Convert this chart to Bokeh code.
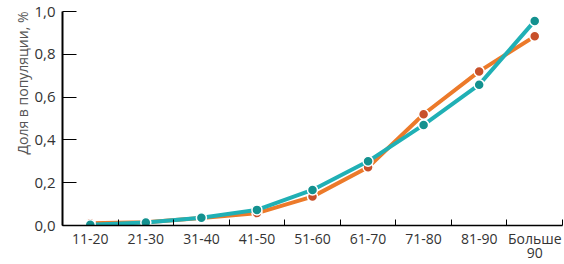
import numpy as np
from bokeh.plotting import figure
from bokeh.models import (Range1d, LinearAxis, FixedTicker, CustomJSTickFormatter, Title)
from bokeh.embed import file_html
from bokeh.resources import INLINE

categories = ["11-20", "21-30", "31-40", "41-50", "51-60", "61-70", "71-80", "81-90", "Больше\n90"]
orange_values = [0.010, 0.015, 0.035, 0.058, 0.135, 0.272, 0.520, 0.720, 0.884]
teal_values = [0.004, 0.014, 0.036, 0.073, 0.166, 0.300, 0.470, 0.658, 0.956]
y_ticks = [0.0, 0.2, 0.4, 0.6, 0.8, 1.0]
y_label = "Доля в популяции, %"

FONT = "Open Sans"

n = len(categories)
centers = list(np.arange(n) + 0.5)
edges = list(np.arange(n + 1).astype(float))

p = figure(width=564, height=264, output_backend="svg", toolbar_location=None,
           x_range=Range1d(0, n), y_range=Range1d(0, 1.0),
           x_axis_location=None, y_axis_location=None,
           min_border_left=62, min_border_right=2, min_border_top=11, min_border_bottom=34)
p.outline_line_color = None
p.xgrid.visible = False
p.ygrid.visible = False
p.background_fill_color = "white"
p.border_fill_color = "white"

x_axis = LinearAxis(ticker=FixedTicker(ticks=centers, minor_ticks=edges),
                    formatter=CustomJSTickFormatter(args=dict(labels=categories),
                                                    code="return labels[Math.floor(tick)];"),
                    major_tick_in=0, major_tick_out=0, major_tick_line_color=None,
                    minor_tick_in=6, minor_tick_out=0, minor_tick_line_color="black",
                    minor_tick_line_width=1,
                    axis_line_color="black", axis_line_width=1.5,
                    major_label_text_font=FONT, major_label_text_font_size="14px",
                    major_label_text_line_height=0.75,
                    major_label_text_color="#333333", major_label_standoff=3)
p.add_layout(x_axis, "below")

y_axis = LinearAxis(ticker=FixedTicker(ticks=y_ticks, minor_ticks=[]),
                    formatter=CustomJSTickFormatter(code="return tick.toFixed(1).replace('.', ',');"),
                    major_tick_in=14, major_tick_out=0, major_tick_line_color="black",
                    major_tick_line_width=1.2,
                    axis_line_color="black", axis_line_width=2,
                    minor_tick_line_color=None,
                    major_label_text_font=FONT, major_label_text_font_size="15px",
                    major_label_text_color="#333333", major_label_standoff=7)
p.add_layout(y_axis, "left")

p.add_layout(Title(text=y_label, align="right", text_font=FONT, text_font_size="14px",
                   text_font_style="normal", text_color="#555555", offset=0, standoff=0), "left")

# orange series
p.line(centers, orange_values, line_color="#ec7a2a", line_width=4)
p.scatter(centers, orange_values, size=10, fill_color="#c8502a",
          line_color="white", line_width=1.5)
# teal series
p.line(centers, teal_values, line_color="#20b0b5", line_width=4)
p.scatter(centers, teal_values, size=10, fill_color="#13918f",
          line_color="white", line_width=1.5)

open("out.html", "w").write(file_html(p, INLINE))
